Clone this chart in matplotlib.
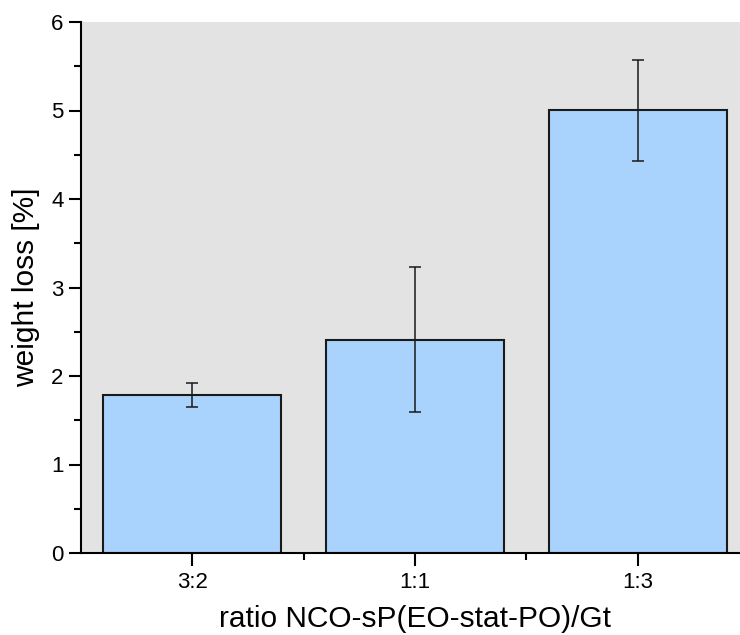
import numpy as np
import matplotlib
matplotlib.use('Agg')
import matplotlib.pyplot as plt

# ==============================================================================
# Data
ratios = ['3:2', '1:1', '1:3']
weight_loss = [1.785, 2.41, 5.005]
err_lower = [0.135, 0.82, 0.57]
err_upper = [0.135, 0.82, 0.57]
# ==============================================================================
# Plot settings
plt.rcParams['font.family'] = ['Liberation Sans', 'DejaVu Sans']
TKF = 16    # Tick font
LBF = 21.5  # Label font
bar_color = '#a9d3fc'
bg_color = '#e3e3e3'
# ==============================================================================
fig = plt.figure(figsize=(7.4, 6.35), dpi=100)
ax = fig.add_axes([81/740, 82/635, 668/740, 531/635])
ax.set_facecolor(bg_color)

x = np.arange(1, len(ratios) + 1)
ax.bar(x, weight_loss, width=0.8, color=bar_color, edgecolor='#1a1a1a', lw=1.5, zorder=2)
ax.errorbar(x, weight_loss, yerr=[err_lower, err_upper], fmt='none',
            ecolor='#1a1a1a', elinewidth=1.1, capsize=4, capthick=1.1, zorder=3)

ax.set_xlim(0.5, 3.5)
ax.set_ylim(0, 6)
ax.set_xticks(x)
ax.set_xticklabels(ratios)
ax.set_xticks([1.5, 2.5], minor=True)
ax.set_yticks(np.arange(0, 7, 1))
ax.set_yticks(np.arange(0.5, 6, 1), minor=True)

for side in ['top', 'right']:
    ax.spines[side].set_visible(False)
for side in ['left', 'bottom']:
    ax.spines[side].set_linewidth(1.5)

ax.tick_params(which='major', direction='out', length=9, width=1.5, labelsize=TKF)
ax.tick_params(which='minor', direction='out', length=5, width=1.5)
ax.tick_params(axis='x', which='major', pad=5)

ax.set_xlabel('ratio NCO-sP(EO-stat-PO)/Gt', fontsize=LBF, labelpad=8)
ax.set_ylabel('weight loss [%]', fontsize=LBF, labelpad=8)

fig.savefig('out.png', dpi=100)
